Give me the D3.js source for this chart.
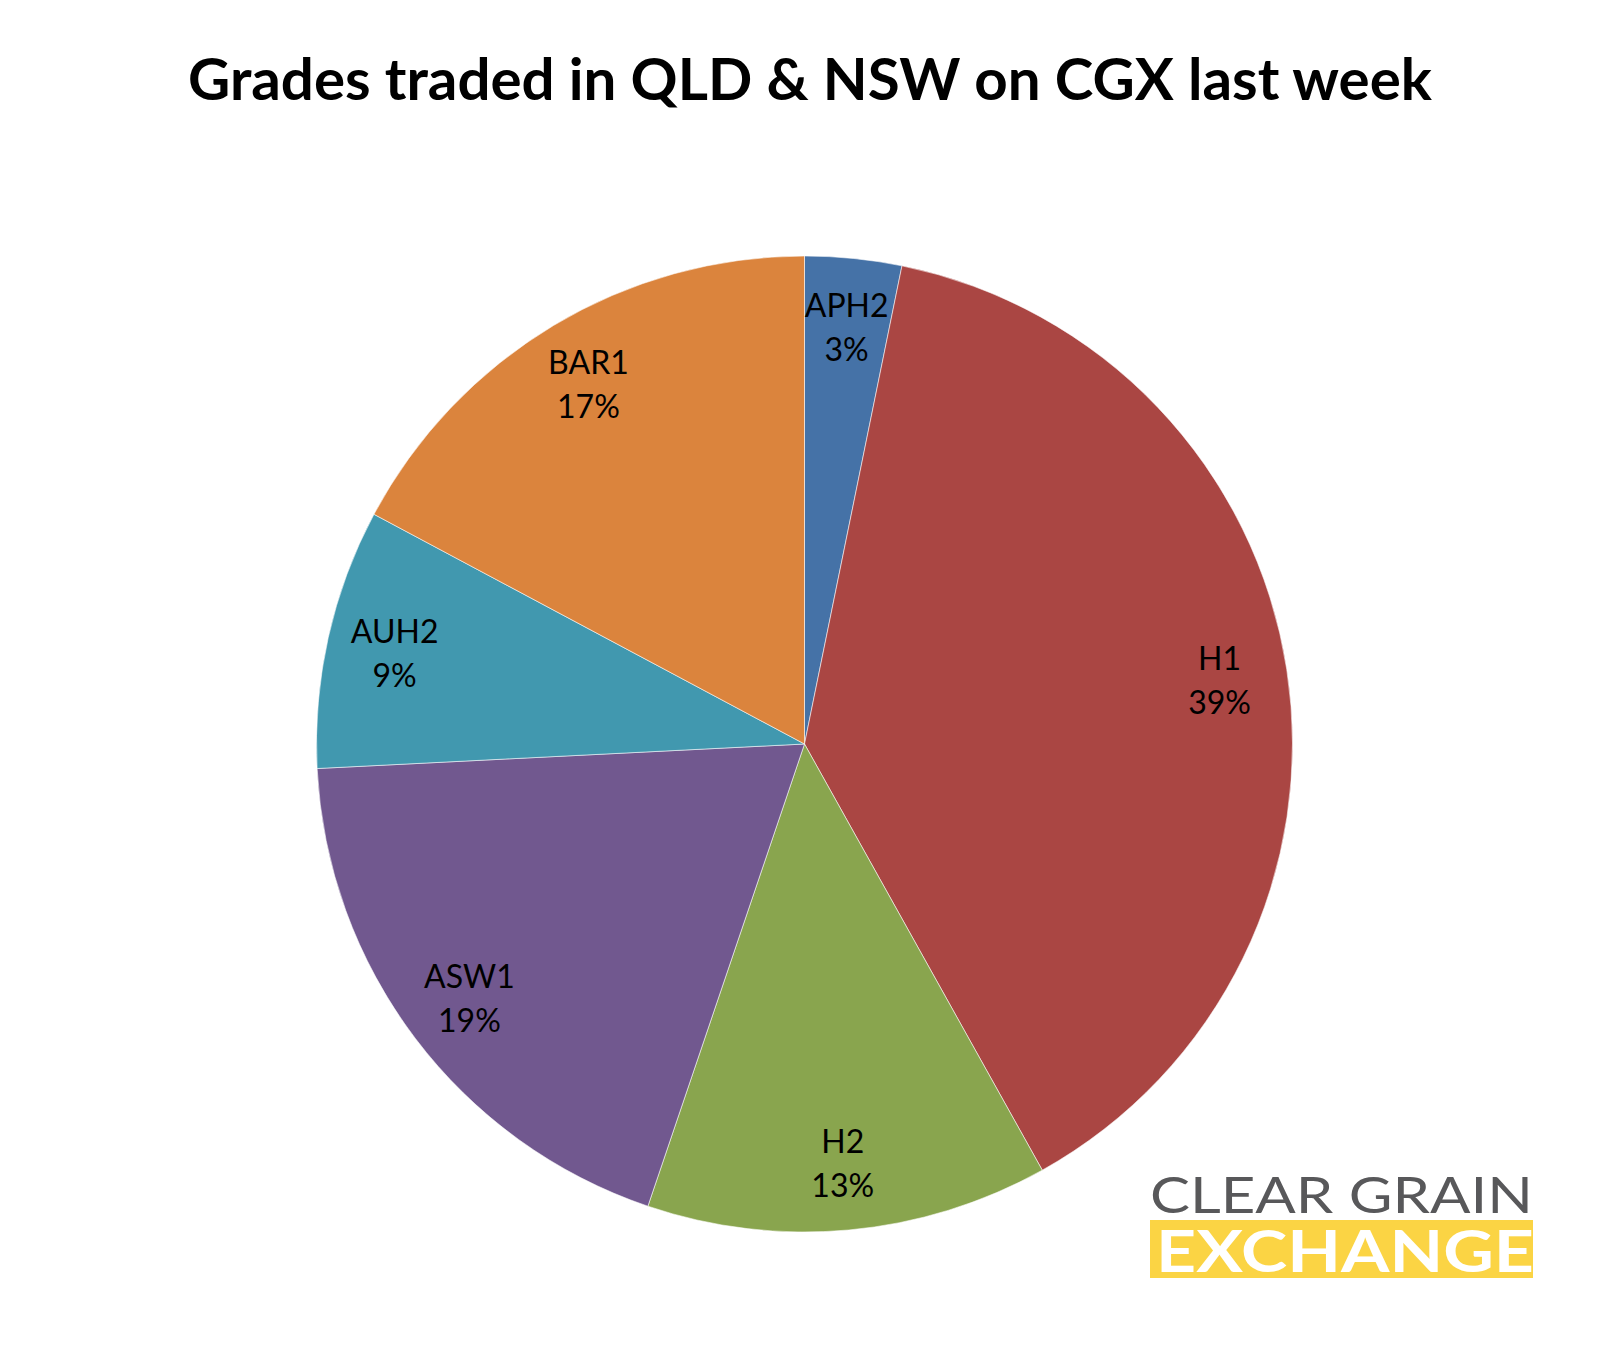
<!DOCTYPE html>
<html>
<head>
<meta charset="utf-8">
<script src="https://cdn.jsdelivr.net/npm/d3@7"></script>
<style>
  html, body { margin: 0; padding: 0; background: #fff; }
  svg { display: block; }
</style>
</head>
<body>
<svg id="chart" width="1609" height="1351"></svg>
<script>
// ---- data ----
const titleText = "Grades traded in QLD & NSW on CGX last week";
const categories = ["APH2", "H1", "H2", "ASW1", "AUH2", "BAR1"];
const values = [3.2, 38.7, 13.3, 19.0, 8.6, 17.2];
const colors = ["#4572A7", "#AA4643", "#89A54E", "#71588F", "#4198AF", "#DB843D"];
const logoLine1 = "CLEAR GRAIN";
const logoLine2 = "EXCHANGE";

// ---- layout ----
const cx = 804.5, cy = 744, R = 488, labelR = 420;

const svg = d3.select("#chart");

// title
const title = svg.append("text")
  .attr("x", 810)
  .attr("y", 100)
  .attr("text-anchor", "middle")
  .style("font-family", "Lato, 'Open Sans', sans-serif")
  .style("font-weight", "700")
  .style("font-size", "56px")
  .attr("fill", "#000")
  .text(titleText);
const tw = title.node().getComputedTextLength();
title.style("font-size", (56 * 1244 / tw) + "px");

const total = d3.sum(values);
const data = categories.map((c, i) => ({ cat: c, value: values[i], color: colors[i] }));

const pie = d3.pie().sort(null).value(d => d.value).startAngle(0).endAngle(2 * Math.PI);
const arcs = pie(data);
const arc = d3.arc().innerRadius(0).outerRadius(R);
const labelArc = d3.arc().innerRadius(labelR).outerRadius(labelR);

const g = svg.append("g").attr("transform", `translate(${cx},${cy})`);

g.selectAll("path.slice")
  .data(arcs)
  .join("path")
  .attr("class", "slice")
  .attr("d", arc)
  .attr("fill", d => d.data.color)
  .attr("stroke", "#ffffff")
  .attr("stroke-opacity", 0.55)
  .attr("stroke-width", 1);

const lbl = g.selectAll("g.label")
  .data(arcs)
  .join("g")
  .attr("class", "label")
  .attr("transform", d => `translate(${labelArc.centroid(d)})`);

lbl.append("text")
  .attr("text-anchor", "middle")
  .attr("dominant-baseline", "central")
  .attr("y", -22)
  .style("font-family", "Lato, 'Open Sans', sans-serif")
  .style("font-size", "32px")
  .attr("fill", "#000")
  .text(d => d.data.cat);

lbl.append("text")
  .attr("text-anchor", "middle")
  .attr("dominant-baseline", "central")
  .attr("y", 22)
  .style("font-family", "Lato, 'Open Sans', sans-serif")
  .style("font-size", "32px")
  .attr("fill", "#000")
  .text(d => Math.round(d.value / total * 100) + "%");

// ---- logo ----
const logo = svg.append("g");
logo.append("text")
  .attr("x", 1150)
  .attr("y", 1213)
  .attr("textLength", 383)
  .attr("lengthAdjust", "spacingAndGlyphs")
  .style("font-family", "Lato, 'Open Sans', sans-serif")
  .style("font-weight", "400")
  .style("font-size", "50px")
  .attr("fill", "#58585A")
  .text(logoLine1);
logo.append("rect")
  .attr("x", 1150)
  .attr("y", 1220)
  .attr("width", 383)
  .attr("height", 58)
  .attr("fill", "#FBD444");
logo.append("text")
  .attr("x", 1156)
  .attr("y", 1272)
  .attr("textLength", 378)
  .attr("lengthAdjust", "spacingAndGlyphs")
  .style("font-family", "Lato, 'Open Sans', sans-serif")
  .style("font-weight", "700")
  .style("font-size", "58px")
  .attr("fill", "#ffffff")
  .text(logoLine2);
</script>
</body>
</html>
